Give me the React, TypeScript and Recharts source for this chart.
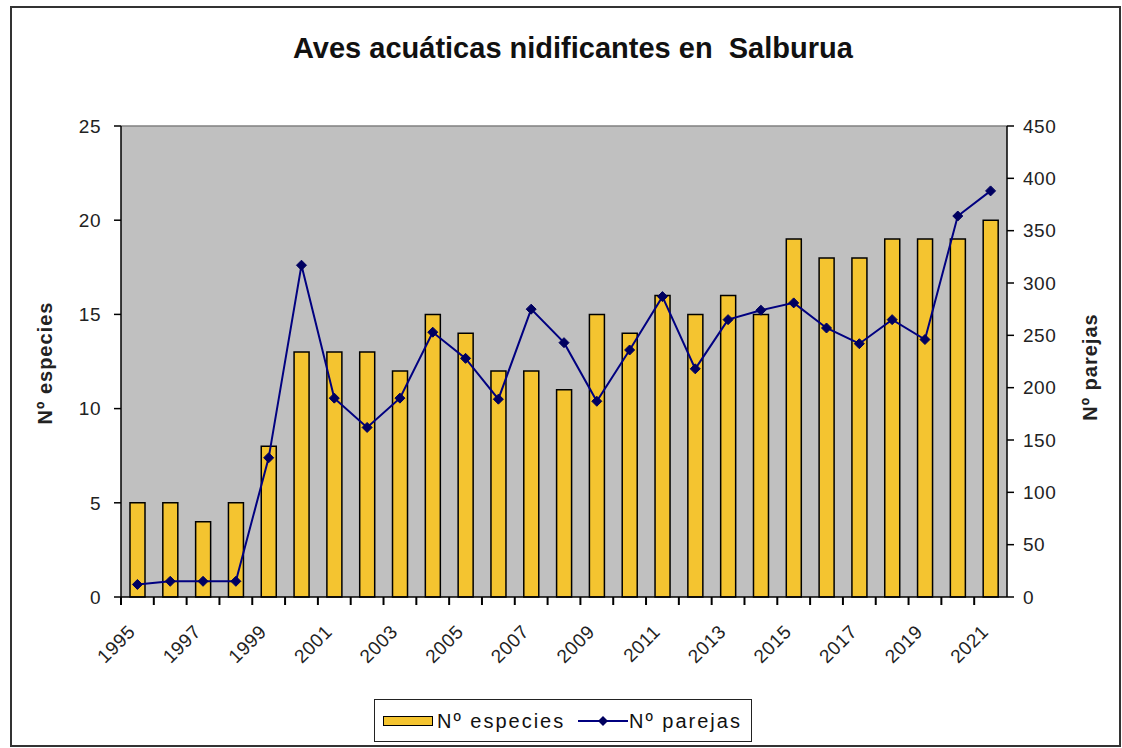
import React from 'react';
import { ComposedChart, Bar, Line, XAxis, YAxis, CartesianGrid, ReferenceLine } from 'recharts';

const years = [
  '1995', '1996', '1997', '1998', '1999', '2000', '2001', '2002', '2003',
  '2004', '2005', '2006', '2007', '2008', '2009', '2010', '2011', '2012',
  '2013', '2014', '2015', '2016', '2017', '2018', '2019', '2020', '2021',
];
const especies = [5, 5, 4, 5, 8, 13, 13, 13, 12, 15, 14, 12, 12, 11, 15, 14, 16, 15, 16, 15, 19, 18, 18, 19, 19, 19, 20];
const parejas = [12, 15, 15, 15, 133, 317, 190, 162, 190, 253, 228, 189, 275, 243, 187, 236, 287, 218, 265, 274, 281, 257, 242, 265, 246, 364, 388];
const leftTicks = [0, 5, 10, 15, 20, 25];
const rightTicks = [0, 50, 100, 150, 200, 250, 300, 350, 400, 450];

const data = years.map((year, i) => ({ year, especies: especies[i], parejas: parejas[i] }));

const FONT = '"Liberation Sans", Arial, sans-serif';
const BAR_FILL = '#F4C430';
const LINE_COLOR = '#000080';
const PLOT_LEFT = 121;
const PLOT_RIGHT = 1007;
const BAND = (PLOT_RIGHT - PLOT_LEFT) / years.length;

// labels on every other year
function YearTick(props: any) {
  const { x, y, index } = props;
  if (index % 2 !== 0) return <g />;
  return (
    <text
      x={x - 1}
      y={y + 28}
      transform={`rotate(-45, ${x - 1}, ${y + 28})`}
      textAnchor="end"
      fill="#222"
      fontSize={19}
      fontFamily={FONT}
      letterSpacing={0.5}
    >
      {props.payload.value}
    </text>
  );
}

function Diamond(props: any) {
  const { cx, cy, index } = props;
  const r = 5;
  return (
    <path
      key={`d-${index}`}
      d={`M${cx},${cy - r} L${cx + r},${cy} L${cx},${cy + r} L${cx - r},${cy} Z`}
      fill="#000060"
      stroke="#000060"
    />
  );
}

export default function App() {
  const tickStyle = { fill: '#222', fontSize: 19, fontFamily: FONT, letterSpacing: 0.5 };
  return (
    <div style={{ position: 'absolute', left: 0, top: 0, width: 1122, height: 748, background: '#fff', fontFamily: FONT }}>
      <div
        style={{
          position: 'absolute', left: 10, top: 6, width: 1111, height: 741,
          border: '2px solid #333', boxSizing: 'border-box',
        }}
      />
      <div
        style={{
          position: 'absolute', left: 293, top: 34, fontSize: 29, lineHeight: '29px',
          fontWeight: 'bold', color: '#111', whiteSpace: 'pre',
        }}
      >
        Aves acuáticas nidificantes en  Salburua
      </div>

      <div style={{ position: 'absolute', left: 0, top: 0 }}>
        <ComposedChart width={1122} height={748} data={data} margin={{ top: 126, right: 0, bottom: 0, left: 0 }}>
          <CartesianGrid fill="#C0C0C0" horizontal={false} vertical={false} />
          <XAxis
            dataKey="year"
            interval={0}
            height={151}
            tickSize={8}
            tickMargin={0}
            tickLine={{ stroke: '#000', strokeWidth: 2, transform: `translate(${-BAND / 2}, 0)` }}
            axisLine={{ stroke: '#000', strokeWidth: 1.5 }}
            tick={<YearTick />}
          />
          <YAxis
            yAxisId="left"
            width={121}
            domain={[0, 25]}
            ticks={leftTicks}
            interval={0}
            tickSize={7}
            tickMargin={13}
            axisLine={{ stroke: '#000', strokeWidth: 1.5 }}
            tickLine={{ stroke: '#000', strokeWidth: 1.5 }}
            tick={tickStyle}
          />
          <YAxis
            yAxisId="right"
            orientation="right"
            width={115}
            domain={[0, 450]}
            ticks={rightTicks}
            interval={0}
            tickSize={7}
            tickMargin={9}
            axisLine={{ stroke: '#000', strokeWidth: 1.5 }}
            tickLine={{ stroke: '#000', strokeWidth: 1.5 }}
            tick={tickStyle}
          />
          <ReferenceLine yAxisId="left" y={25} stroke="#808080" strokeWidth={1.5} />
          <Bar
            dataKey="especies"
            yAxisId="left"
            fill={BAR_FILL}
            stroke="#000"
            strokeWidth={1.5}
            barSize={15}
            isAnimationActive={false}
          />
          <Line
            dataKey="parejas"
            yAxisId="right"
            type="linear"
            stroke={LINE_COLOR}
            strokeWidth={2}
            dot={<Diamond />}
            activeDot={false}
            isAnimationActive={false}
          />
        </ComposedChart>
      </div>

      <div
        style={{
          position: 'absolute', left: 45, top: 363, transform: 'translate(-50%, -50%) rotate(-90deg)',
          fontSize: 20, fontWeight: 'bold', color: '#222', whiteSpace: 'nowrap', letterSpacing: 1,
        }}
      >
        Nº especies
      </div>
      <div
        style={{
          position: 'absolute', left: 1090, top: 367, transform: 'translate(-50%, -50%) rotate(-90deg)',
          fontSize: 20, fontWeight: 'bold', color: '#222', whiteSpace: 'nowrap', letterSpacing: 1,
        }}
      >
        Nº parejas
      </div>

      <div
        style={{
          position: 'absolute', left: 374, top: 699, width: 378, height: 43,
          border: '1.5px solid #222', boxSizing: 'border-box', background: '#fff',
        }}
      >
        <div
          style={{
            position: 'absolute', left: 8, top: 16, width: 50, height: 10,
            background: BAR_FILL, border: '1.5px solid #000', boxSizing: 'border-box',
          }}
        />
        <span style={{ position: 'absolute', left: 62, top: 10, fontSize: 20, lineHeight: '22px', color: '#111', letterSpacing: 2, whiteSpace: 'nowrap' }}>
          Nº especies
        </span>
        <svg style={{ position: 'absolute', left: 202, top: 11 }} width={52} height={20}>
          <line x1={1} x2={51} y1={10} y2={10} stroke={LINE_COLOR} strokeWidth={2} />
          <path d="M26,5 L31,10 L26,15 L21,10 Z" fill="#000060" />
        </svg>
        <span style={{ position: 'absolute', left: 254, top: 10, fontSize: 20, lineHeight: '22px', color: '#111', letterSpacing: 2, whiteSpace: 'nowrap' }}>
          Nº parejas
        </span>
      </div>
    </div>
  );
}
